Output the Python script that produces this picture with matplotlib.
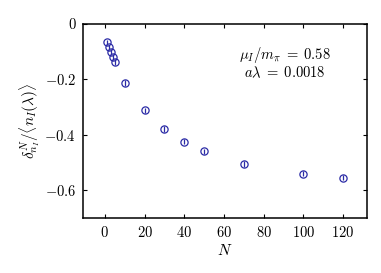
import numpy as np
import matplotlib
matplotlib.use("Agg")
import matplotlib.pyplot as plt

plt.rcParams["font.family"] = "serif"
plt.rcParams["font.serif"] = ["cmr10"]
plt.rcParams["mathtext.fontset"] = "cm"
plt.rcParams["axes.formatter.use_mathtext"] = True

# data
N = [1, 2, 3, 4, 5, 10, 20, 30, 40, 50, 70, 100, 120]
delta = [-0.066, -0.084, -0.102, -0.120, -0.138, -0.212, -0.312, -0.379,
         -0.424, -0.460, -0.505, -0.540, -0.554]
err = [0.010, 0.010, 0.010, 0.010, 0.010, 0.010, 0.010, 0.010,
       0.010, 0.010, 0.010, 0.010, 0.010]

col = "#2b2ba6"

fig = plt.figure(figsize=(3.81, 2.73), dpi=100)
ax = fig.add_axes([83 / 381, 1 - 218 / 273, 284 / 381, 194 / 273])

ax.errorbar(N, delta, yerr=err, fmt="o", mfc="none", mec=col, ecolor=col,
            ms=5.2, mew=0.9, elinewidth=0.9, capsize=0)

ax.set_xlim(-11, 132)
ax.set_ylim(-0.7, 0)
ax.set_xticks([0, 20, 40, 60, 80, 100, 120])
ax.set_yticks([0, -0.2, -0.4, -0.6])
ax.set_yticklabels(["0", r"$-0.2$", r"$-0.4$", r"$-0.6$"])
ax.tick_params(direction="in", top=True, right=True, length=3, width=0.8,
               labelsize=10.5, pad=5)
for s in ax.spines.values():
    s.set_linewidth(1.1)

ax.set_xlabel(r"$N$", fontsize=11, labelpad=2)
ax.set_ylabel(r"$\delta^N_{n_I}/\langle n_I(\lambda)\rangle$", fontsize=11,
              labelpad=2)

ax.text(90.5, -0.111, r"$\mu_I/m_\pi \;=\; 0.58$", ha="center", va="center",
        fontsize=10.5)
ax.text(90.5, -0.176, r"$a\lambda \;=\; 0.0018$", ha="center", va="center",
        fontsize=10.5)

fig.savefig("out.png", dpi=100)
